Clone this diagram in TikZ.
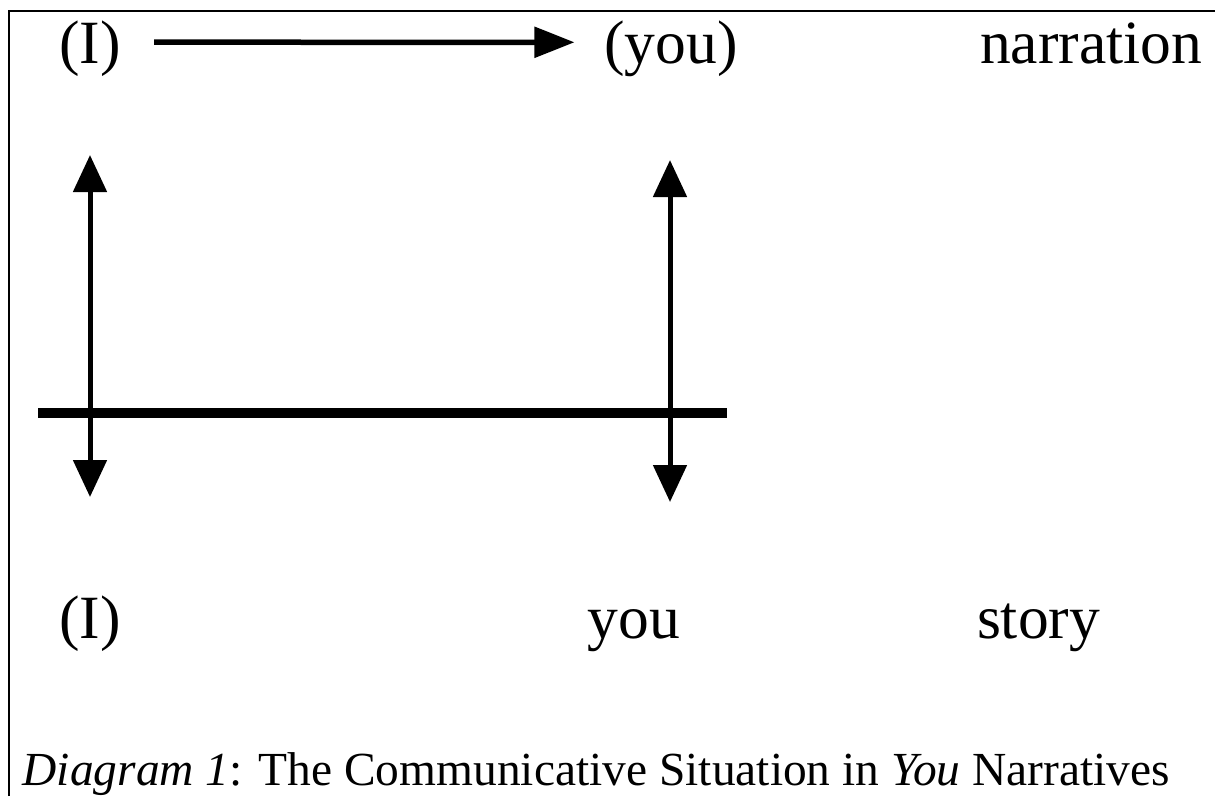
\documentclass[tikz,border=0pt]{standalone}
\usepackage{fontspec}
\setmainfont{Liberation Serif}
\usetikzlibrary{arrows.meta}

\begin{document}
\begin{tikzpicture}[
		lbl/.style={anchor=base, font=\fontsize{17.5}{20}\selectfont},
		arr/.style={-{Triangle[length=4mm, width=3mm]}, line width=0.55mm},
		darr/.style={{Triangle[length=3.7mm, width=3.3mm]}-{Triangle[length=3.7mm, width=3.3mm]}, line width=0.5mm}
	]
		% Fix the page size
		\useasboundingbox (0,0) rectangle (12.15,-7.96);
		
		% Frame, cut off at right and bottom
		\draw[line width=0.2mm] (0.09,-7.96) -- (0.09,-0.11) -- (12.15,-0.11);
		
		% Labels for the narration level (top) and the story level (bottom)
		\node[lbl] (Itop) at (0.90,-0.63) {(I)};
		\node[lbl] (youtop) at (6.71,-0.63) {(you)};
		\node[lbl] (narr) at (10.91,-0.63) {narration};
		\node[lbl] (Ibot) at (0.90,-6.38) {(I)};
		\node[lbl] (youbot) at (6.34,-6.38) {you};
		\node[lbl] (story) at (10.385,-6.38) {story};
		
		% Arrow from narrator to narratee
		\draw[arr, shorten <=2.1mm, shorten >=1.75mm] ([yshift=0.6mm]Itop.east) -- ([yshift=0.6mm]youtop.west);
		
		% Double arrows crossing the level boundary
		\coordinate (lup) at (0.90,-1.55);
		\coordinate (ldown) at (0.90,-4.97);
		\coordinate (rup) at (6.70,-1.60);
		\coordinate (rdown) at (6.70,-5.02);
		\draw[darr] (ldown) -- (lup);
		\draw[darr] (rdown) -- (rup);
		
		% The boundary between the two levels
		\coordinate (bl) at (0.38,-4.13);
		\coordinate (br) at (7.27,-4.13);
		\draw[line width=1mm] (bl) -- (br);
		
		% Caption
		\node[anchor=base west, inner sep=0, font=\fontsize{13.5}{16}\selectfont] (cap) at (0.22,-7.85)
			{\textit{Diagram 1}: The Communicative Situation in \textit{You} Narratives};
		
	\end{tikzpicture}
\end{document}
